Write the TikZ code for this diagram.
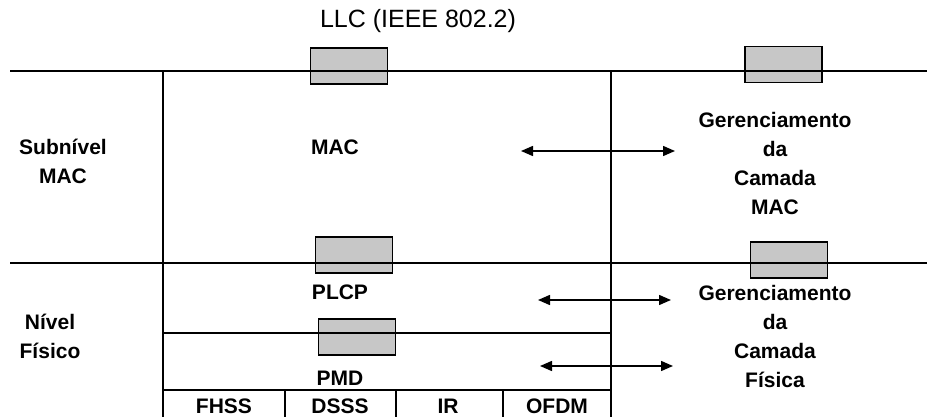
\documentclass[tikz,border=0pt]{standalone}
\usepackage{fontspec}
\setmainfont{Liberation Sans}
\usetikzlibrary{arrows.meta}
\begin{document}
\begin{tikzpicture}[x=1pt,y=-1pt,
  lbl/.style={font=\bfseries\fontsize{21}{29}\selectfont, align=center, inner sep=0pt},
  sap/.style={draw=black, line width=1.5pt, fill=black!22, inner sep=0pt, minimum width=77pt, minimum height=36pt},
  ln/.style={line width=1.5pt},
  dar/.style={line width=1.5pt, {Triangle[length=12pt,width=10pt]}-{Triangle[length=12pt,width=10pt]}}]
\useasboundingbox (0,0) rectangle (927,417);
% boxes (service access points)
\node[sap] (b1) at (349,66) {};
\node[sap] (b2) at (354,255) {};
\node[sap] (b3) at (357,337) {};
\node[sap] (b4) at (783.5,64.5) {};
\node[sap] (b5) at (789,260) {};
% coordinates
\coordinate (t0) at (10,71);   \coordinate (t1) at (927,71);
\coordinate (m0) at (10,263);  \coordinate (m1) at (927,263);
\coordinate (v1a) at (163,71); \coordinate (v1b) at (163,417);
\coordinate (v2a) at (611,71); \coordinate (v2b) at (611,417);
\coordinate (p0) at (163,333); \coordinate (p1) at (611,333);
\coordinate (q0) at (163,390); \coordinate (q1) at (611,390);
\coordinate (c1a) at (285,390); \coordinate (c1b) at (285,417);
\coordinate (c2a) at (396,390); \coordinate (c2b) at (396,417);
\coordinate (c3a) at (503,390); \coordinate (c3b) at (503,417);
\draw[ln] (t0) -- (t1);
\draw[ln] (m0) -- (m1);
\draw[ln] (v1a) -- (v1b);
\draw[ln] (v2a) -- (v2b);
\draw[line width=2pt] (p0) -- (p1);
\draw[ln] (q0) -- (q1);
\draw[ln] (c1a) -- (c1b);
\draw[ln] (c2a) -- (c2b);
\draw[ln] (c3a) -- (c3b);
% arrows
\coordinate (a1l) at (521,151); \coordinate (a1r) at (675,151);
\coordinate (a2l) at (538,300); \coordinate (a2r) at (671,300);
\coordinate (a3l) at (540,366); \coordinate (a3r) at (673,366);
\draw[dar] (a1l) -- (a1r);
\draw[dar] (a2l) -- (a2r);
\draw[dar] (a3l) -- (a3r);
% texts
\node[inner sep=0pt, font=\fontsize{25}{30}\selectfont] (llc) at (418,21) {LLC (IEEE 802.2)};
\node[lbl] (sub) at (63,161) {Subnível\\MAC};
\node[lbl] (mac) at (335,147) {MAC};
\node[lbl] (gm) at (775,163) {Gerenciamento\\da\\Camada\\MAC};
\node[lbl] (plcp) at (340,292) {PLCP};
\node[lbl] (nf) at (50,336) {Nível\\Físico};
\node[lbl] (gf) at (775,336) {Gerenciamento\\da\\Camada\\Física};
\node[lbl] (pmd) at (340,378) {PMD};
\node[lbl] (fh) at (224,406) {FHSS};
\node[lbl] (ds) at (340,406) {DSSS};
\node[lbl] (ir) at (448,406) {IR};
\node[lbl] (of) at (557,406) {OFDM};
\end{tikzpicture}
\end{document}
